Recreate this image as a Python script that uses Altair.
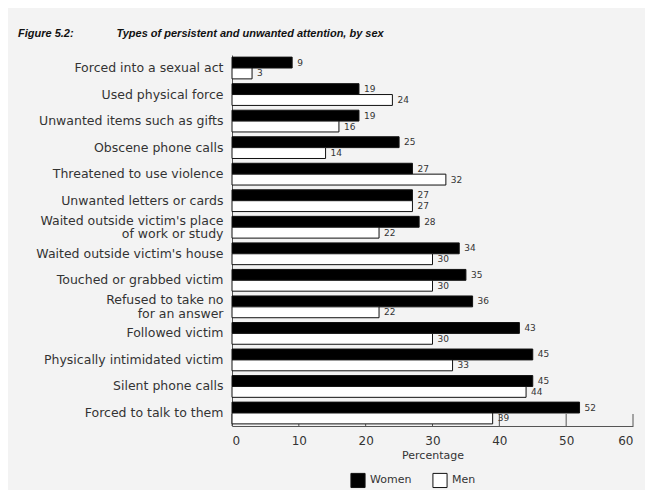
import altair as alt
import pandas as pd

categories = [
    "Forced into a sexual act",
    "Used physical force",
    "Unwanted items such as gifts",
    "Obscene phone calls",
    "Threatened to use violence",
    "Unwanted letters or cards",
    "Waited outside victim's place|of work or study",
    "Waited outside victim's house",
    "Touched or grabbed victim",
    "Refused to take no|for an answer",
    "Followed victim",
    "Physically intimidated victim",
    "Silent phone calls",
    "Forced to talk to them",
]
women = [9, 19, 19, 25, 27, 27, 28, 34, 35, 36, 43, 45, 45, 52]
men = [3, 24, 16, 14, 32, 27, 22, 30, 30, 22, 30, 33, 44, 39]
series = ["Women", "Men"]
tick_values = [0, 10, 20, 30, 40, 50, 60]

rows = []
for c, w, m in zip(categories, women, men):
    rows.append({"cat": c, "sex": "Women", "val": w})
    rows.append({"cat": c, "sex": "Men", "val": m})
df = pd.DataFrame(rows)
ticks_df = pd.DataFrame({"t": tick_values})

W, H = 401, 371
FONT = "DejaVu Sans"

y_enc = alt.Y("cat:N", sort=categories,
              scale=alt.Scale(paddingInner=0.18, paddingOuter=0.08),
              axis=alt.Axis(title=None, labelExpr="split(datum.label, '|')",
                            labelFont=FONT, labelFontSize=12.5, labelColor="#333",
                            labelPadding=9, ticks=False, domainColor="#555",
                            labelLineHeight=13.5, labelLimit=0,
                            labelOffset={"condition": {"test": "indexof(datum.label, '|') >= 0",
                                                       "value": -6.5},
                                         "value": 0}))
yoff = alt.YOffset("sex:N", sort=series, scale=alt.Scale(paddingInner=0))
x_scale = alt.Scale(domain=[0, 60])

ticks = alt.Chart(ticks_df).mark_rule(color="#555", strokeWidth=1).encode(
    x=alt.X("t:Q", scale=x_scale),
    y=alt.value(H - 12), y2=alt.value(H),
)

bars = alt.Chart(df).mark_bar(stroke="#111", strokeWidth=1).encode(
    x=alt.X("val:Q", scale=x_scale,
            axis=alt.Axis(title="Percentage", values=tick_values, grid=False,
                          ticks=False, labelFont=FONT, labelFontSize=12,
                          labelColor="#333", titleFont=FONT, titleFontSize=11,
                          titleFontWeight="normal", titleColor="#333",
                          titlePadding=3, domainColor="#555", labelPadding=9)),
    y=y_enc,
    yOffset=yoff,
    fill=alt.Fill("sex:N", sort=series,
                  scale=alt.Scale(domain=series, range=["#000000", "#ffffff"]),
                  legend=alt.Legend(title=None, orient="none", direction="horizontal",
                                    legendX=118, legendY=417, symbolType="square",
                                    symbolSize=200, symbolStrokeColor="#111",
                                    symbolStrokeWidth=1, labelFont=FONT,
                                    labelFontSize=11, labelColor="#333",
                                    columnPadding=18, symbolOffset=0)),
)

labels = alt.Chart(df).mark_text(align="left", baseline="middle", dx=5,
                                 font=FONT, fontSize=9, color="#333").encode(
    x=alt.X("val:Q", scale=x_scale),
    y=alt.Y("cat:N", sort=categories),
    yOffset=alt.YOffset("sex:N", sort=series),
    text="val:Q",
)

title_text = ("Figure 5.2:" + "\u00a0" * 14 +
              "Types of persistent and unwanted attention, by sex")

chart = alt.layer(ticks, bars, labels).properties(
    width=W, height=H,
    background="#f3f3f3",
    autosize=alt.AutoSizeParams(type="none"),
    padding={"top": 47, "left": 224, "right": 12, "bottom": 64},
    title=alt.TitleParams(
        title_text,
        anchor="start", frame="group", font="Liberation Sans",
        fontSize=11, fontWeight="bold", fontStyle="italic", color="#111",
        offset=16, dx=-214),
).configure_view(stroke=None)

chart.save("out.html", embed_options={"renderer": "svg", "actions": False})
